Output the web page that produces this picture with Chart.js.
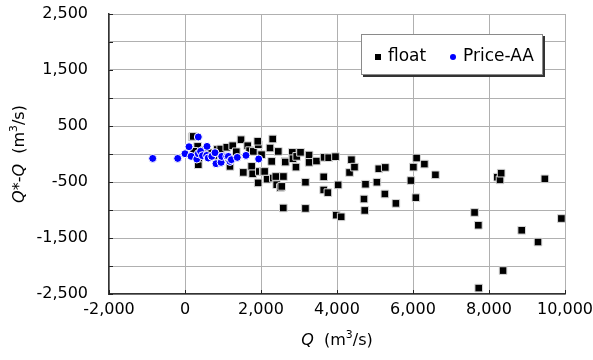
<!DOCTYPE html>
<html>
<head>
<meta charset="utf-8">
<script src="https://cdn.jsdelivr.net/npm/chart.js@4/dist/chart.umd.min.js"></script>
<style>
  body { margin: 0; background: #fff; }
  #wrap { position: relative; width: 593px; height: 360px; }
  #chart { display: block; }
  #legend {
    position: absolute; left: 361px; top: 34px; width: 182px; height: 41px;
    box-sizing: border-box; background: #fff; border: 1px solid #8a8a8a;
    box-shadow: 2px 2px 0 #333; font: 17px "DejaVu Sans", sans-serif; color: #000;
    line-height: 20px;
  }
  #legend span { position: absolute; top: 10px; }
  #legend i { position: absolute; display: block; }
</style>
</head>
<body>
<div id="wrap">
  <canvas id="chart" width="593" height="360"></canvas>
  <div id="legend">
    <i style="left:13px;top:19px;width:6px;height:6px;background:#000"></i>
    <span style="left:26px">float</span>
    <i style="left:88px;top:19px;width:6px;height:6px;border-radius:50%;background:#0000ff"></i>
    <span style="left:101px">Price-AA</span>
  </div>
</div>
<script>
// float method: Q and Q*-Q (m3/s)
const floatQ = [190, 219, 334, 350, 230, 360, 500, 650, 750, 850, 939, 1000, 1100, 1184, 1255, 1350, 1474, 1535, 1650, 1700,
    1754, 1798, 1780, 1930, 1915, 1925, 1955, 2015, 2061, 2095, 2160, 2237, 2308, 2281, 2324, 2390, 2413, 2455, 2510, 2545,
    2587, 2632, 2640, 2590, 2824, 2840, 2920, 2939, 3040, 3170, 3170, 3265, 3265, 3460, 3650, 3650, 3660, 3760, 3780, 3960,
    3980, 4030, 4110, 4330, 4380, 4460, 4710, 4730, 4750, 5050, 5100, 5260, 5270, 5550, 5945, 6010, 6075, 6095, 6300, 6590,
    7620, 7720, 7730, 8220, 8290, 8320, 8370, 8860, 9290, 9470, 9905];
const floatErr = [306, 314, 136, -191, 48, -72, 60, 20, -40, 80, 89, -60, 120, -221, 148, 40, 255, -329, 148, 60,
    -221, 46, -354, 166, 228, -516, -312, -12, -311, -312, -450, 107, 268, -132, -429, -402, -548, 46, -600, -579,
    -964, -132, -144, -402, 29, -84, -234, -43, 30, -504, -972, -18, -150, -126, -408, -642, -60, -690, -66, -48,
    -1092, -552, -1122, -330, -102, -234, -804, -1008, -540, -504, -264, -714, -240, -882, -474, -234, -780, -72, -180, -372,
    -1044, -1272, -2394, -414, -462, -342, -2082, -1362, -1572, -444, -1152];

// Price-AA current meter
const priceQ = [-850, -192, 0, 105, 160, 310, 350, 350, 410, 460, 571, 579, 610, 705, 790, 816, 950, 966, 1100, 1140,
    1184, 1220, 1376, 1605, 1939];
const priceErr = [-79, -79, 5, 130, -42, -90, 304, 5, 48, -30, -25, 136, -72, -42, 23, -173, -150, -43, -42, -43,
    -132, -102, -61, -25, -89];

const X_MIN = -2000, X_MAX = 10000;
const Y_MIN = -2500, Y_MAX = 2500;

const FONT = "DejaVu Sans";

function toPoints(xs, ys) {
    return xs.map((x, i) => ({x: x, y: ys[i]}));
}

// draw a title with italic Q and a raised 3
function drawRich(ctx, parts, size) {
    let w = 0;
    parts.forEach(p => {
        ctx.font = (p.it ? "italic " : "") + (p.sup ? size * 0.68 : size) + "px " + FONT;
        p.w = ctx.measureText(p.t).width;
        w += p.w;
    });
    let x = -w / 2;
    parts.forEach(p => {
        ctx.font = (p.it ? "italic " : "") + (p.sup ? size * 0.68 : size) + "px " + FONT;
        ctx.fillText(p.t, x, p.sup ? -size * 0.38 : 0);
        x += p.w;
    });
}

const axisTitles = {
    id: "axisTitles",
    afterDraw(chart) {
        let ctx = chart.ctx;
        let a = chart.chartArea;
        ctx.save();
        ctx.fillStyle = "#000";
        ctx.textBaseline = "middle";
        ctx.textAlign = "left";

        // inner tick marks
        ctx.strokeStyle = "#222";
        ctx.lineWidth = 1;
        ctx.beginPath();
        chart.scales.x.ticks.forEach(t => {
            let px = Math.round(chart.scales.x.getPixelForValue(t.value)) + 0.5;
            ctx.moveTo(px, a.bottom);
            ctx.lineTo(px, a.bottom - 4);
        });
        chart.scales.y.ticks.forEach(t => {
            let py = Math.round(chart.scales.y.getPixelForValue(t.value)) + 0.5;
            ctx.moveTo(a.left, py);
            ctx.lineTo(a.left + 4, py);
        });
        ctx.stroke();

        ctx.save();
        ctx.translate((a.left + a.right) / 2, 341);
        drawRich(ctx, [{t: "Q", it: true}, {t: "  (m"}, {t: "3", sup: true}, {t: "/s)"}], 16);
        ctx.restore();

        ctx.save();
        ctx.translate(20, (a.top + a.bottom) / 2);
        ctx.rotate(-Math.PI / 2);
        drawRich(ctx, [{t: "Q", it: true}, {t: "*-"}, {t: "Q", it: true}, {t: "  (m"}, {t: "3", sup: true}, {t: "/s)"}], 16);
        ctx.restore();

        ctx.restore();
    }
};

new Chart(document.getElementById("chart"), {
    type: "scatter",
    data: {
        datasets: [
            {
                label: "Price-AA",
                data: toPoints(priceQ, priceErr),
                pointStyle: "circle",
                radius: 4,
                backgroundColor: "#0000ff",
                borderColor: "#ffffff",
                borderWidth: 1,
                order: 1,
            },
            {
                label: "float",
                data: toPoints(floatQ, floatErr),
                pointStyle: "rect",
                radius: 5.4,
                backgroundColor: "#000000",
                borderColor: "#d8d8d8",
                borderWidth: 1,
                order: 2,
            },
        ]
    },
    options: {
        responsive: false,
        animation: false,
        layout: {
            padding: {left: 0, top: 14, right: 28, bottom: 0}
        },
        scales: {
            x: {
                type: "linear",
                min: X_MIN,
                max: X_MAX,
                afterFit: function (scale) {
                    scale.height = 66;
                    scale.paddingLeft = 0;
                    scale.paddingRight = 0;
                },
                ticks: {
                    stepSize: 2000,
                    padding: 6,
                    color: "#000",
                    font: {family: FONT, size: 16},
                    callback: function (value) { return value.toLocaleString("en-US"); }
                },
                grid: {color: "#b0b0b0", lineWidth: 1, drawTicks: false},
                border: {color: "#333", width: 1.5},
            },
            y: {
                min: Y_MIN,
                max: Y_MAX,
                afterFit: function (scale) {
                    scale.width = 109;
                    scale.paddingTop = 0;
                    scale.paddingBottom = 0;
                },
                ticks: {
                    stepSize: 500,
                    padding: 21,
                    color: "#000",
                    font: {family: FONT, size: 16},
                    callback: function (value) {
                        return (Math.abs(value) / 500) % 2 === 1 ? value.toLocaleString("en-US") : "";
                    }
                },
                grid: {color: "#b0b0b0", lineWidth: 1, drawTicks: false},
                border: {color: "#333", width: 1.5},
            }
        },
        plugins: {
            legend: {display: false},
            tooltip: {enabled: false},
        }
    },
    plugins: [axisTitles]
});
</script>
</body>
</html>
